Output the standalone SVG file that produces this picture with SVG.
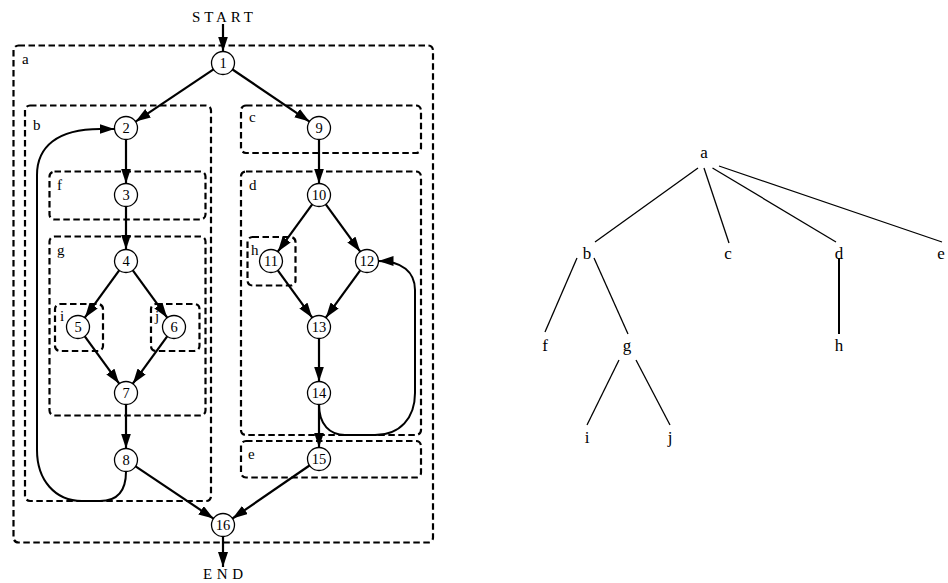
<svg xmlns="http://www.w3.org/2000/svg" width="948" height="583" viewBox="0 0 948 583">
<defs>
<marker id="arr" markerUnits="userSpaceOnUse" markerWidth="16" markerHeight="11" refX="15" refY="5" orient="auto">
<path d="M0,0 L15,5 L0,10 Z" fill="#000"/>
</marker>
<style>
.box{fill:none;stroke:#000;stroke-width:2.2;stroke-dasharray:6.5 3.5}
.lbl{font-family:"Liberation Serif","DejaVu Serif",serif;font-size:15px;fill:#000}
.edge{fill:none;stroke:#000;stroke-width:2.2;marker-end:url(#arr)}
.loop{fill:none;stroke:#000;stroke-width:2;marker-end:url(#arr)}
.node circle{fill:#fff;stroke:#000;stroke-width:1.3}
.node text{font-family:"Liberation Serif","DejaVu Serif",serif;font-size:14.5px;text-anchor:middle;fill:#000}
.term{font-family:"Liberation Serif","DejaVu Serif",serif;font-size:15px;fill:#000}
.tl{font-family:"Liberation Serif","DejaVu Serif",serif;font-size:17px;text-anchor:middle;fill:#000}
.tedge{stroke:#000;stroke-width:1.3;fill:none}
</style>
</defs>
<rect width="948" height="583" fill="#fff"/>

<g id="clusters">
<g id="cluster-a"><rect class="box" x="13.5" y="45.5" width="419.5" height="497" rx="5"/><text class="lbl" x="22" y="64">a</text></g>
<g id="cluster-b"><rect class="box" x="25" y="105.5" width="186" height="395.5" rx="5"/><text class="lbl" x="33" y="130">b</text></g>
<g id="cluster-c"><rect class="box" x="241" y="105.5" width="180" height="47.5" rx="5"/><text class="lbl" x="249" y="122">c</text></g>
<g id="cluster-d"><rect class="box" x="241" y="171.5" width="180" height="263.5" rx="5"/><text class="lbl" x="249" y="190">d</text></g>
<g id="cluster-e"><rect class="box" x="241" y="441" width="180" height="36.5" rx="5"/><text class="lbl" x="248" y="459">e</text></g>
<g id="cluster-f"><rect class="box" x="49.5" y="171.5" width="156" height="48" rx="5"/><text class="lbl" x="57" y="190">f</text></g>
<g id="cluster-g"><rect class="box" x="49.5" y="236.5" width="156" height="179" rx="5"/><text class="lbl" x="57" y="255">g</text></g>
<g id="cluster-h"><rect class="box" x="247.5" y="237" width="48" height="48.5" rx="5"/><text class="lbl" x="251" y="255">h</text></g>
<g id="cluster-i"><rect class="box" x="55" y="304" width="48" height="47" rx="5"/><text class="lbl" x="60" y="321">i</text></g>
<g id="cluster-j"><rect class="box" x="151" y="304" width="48.5" height="47" rx="5"/><text class="lbl" x="155" y="321">j</text></g>
</g>

<g id="connectors">
<line class="edge" x1="223" y1="24" x2="223" y2="51.5"/>
<line class="edge" x1="213.5" y1="69.4" x2="135.6" y2="121.6"/>
<line class="edge" x1="232.5" y1="69.5" x2="309.5" y2="121.6"/>
<line class="edge" x1="126" y1="139.5" x2="126" y2="183.5"/>
<line class="edge" x1="126" y1="206.5" x2="126" y2="249.5"/>
<line class="edge" x1="119.2" y1="270.3" x2="84.8" y2="317.7"/>
<line class="edge" x1="132.8" y1="270.3" x2="167.2" y2="317.7"/>
<line class="edge" x1="84.8" y1="336.3" x2="119.2" y2="383.7"/>
<line class="edge" x1="167.2" y1="336.3" x2="132.8" y2="383.7"/>
<line class="edge" x1="126" y1="404.5" x2="126" y2="448.5"/>
<line class="edge" x1="135.6" y1="466.4" x2="213.5" y2="518.6"/>
<line class="edge" x1="319" y1="139.5" x2="319" y2="183.5"/>
<line class="edge" x1="312.2" y1="204.3" x2="277.8" y2="251.7"/>
<line class="edge" x1="325.8" y1="204.3" x2="360.2" y2="251.7"/>
<line class="edge" x1="277.8" y1="270.3" x2="312.2" y2="317.7"/>
<line class="edge" x1="360.2" y1="270.3" x2="325.8" y2="317.7"/>
<line class="edge" x1="319" y1="338.5" x2="319" y2="381.5"/>
<line class="edge" x1="319" y1="404.5" x2="319" y2="447.5"/>
<line class="edge" x1="309.5" y1="465.5" x2="232.5" y2="518.5"/>
<line class="edge" x1="223" y1="536.5" x2="223" y2="567"/>
<path class="loop" d="M126,471.5 C126,490 118,501 100,501 L82,501 C55,501 37,480 37,450 L37,175 C37,147 57,129 100,129 L114.5,129"/>
<path class="loop" d="M319,404.5 C319,425 330,435 345,435 L375,435 C400,435 415,418 415,393 L415,290 C415,272 402,261 378.5,261"/>
</g>

<g id="nodes">
<g id="n1" class="node"><circle cx="223" cy="63" r="11.5"/><text x="223" y="68">1</text></g>
<g id="n2" class="node"><circle cx="126" cy="128" r="11.5"/><text x="126" y="133">2</text></g>
<g id="n3" class="node"><circle cx="126" cy="195" r="11.5"/><text x="126" y="200">3</text></g>
<g id="n4" class="node"><circle cx="126" cy="261" r="11.5"/><text x="126" y="266">4</text></g>
<g id="n5" class="node"><circle cx="78" cy="327" r="11.5"/><text x="78" y="332">5</text></g>
<g id="n6" class="node"><circle cx="174" cy="327" r="11.5"/><text x="174" y="332">6</text></g>
<g id="n7" class="node"><circle cx="126" cy="393" r="11.5"/><text x="126" y="398">7</text></g>
<g id="n8" class="node"><circle cx="126" cy="460" r="11.5"/><text x="126" y="465">8</text></g>
<g id="n9" class="node"><circle cx="319" cy="128" r="11.5"/><text x="319" y="133">9</text></g>
<g id="n10" class="node"><circle cx="319" cy="195" r="11.5"/><text x="319" y="200">10</text></g>
<g id="n11" class="node"><circle cx="271" cy="261" r="11.5"/><text x="271" y="266">11</text></g>
<g id="n12" class="node"><circle cx="367" cy="261" r="11.5"/><text x="367" y="266">12</text></g>
<g id="n13" class="node"><circle cx="319" cy="327" r="11.5"/><text x="319" y="332">13</text></g>
<g id="n14" class="node"><circle cx="319" cy="393" r="11.5"/><text x="319" y="398">14</text></g>
<g id="n15" class="node"><circle cx="319" cy="459" r="11.5"/><text x="319" y="464">15</text></g>
<g id="n16" class="node"><circle cx="223" cy="525" r="11.5"/><text x="223" y="530">16</text></g>
<g id="start"><text class="term" x="192" y="21.5" textLength="61" lengthAdjust="spacing">START</text></g>
<g id="end"><text class="term" x="203" y="578.5" textLength="40" lengthAdjust="spacing">END</text></g>
</g>

<g id="tree-connectors">
<line class="tedge" x1="698" y1="168" x2="595" y2="242"/>
<line class="tedge" x1="704" y1="168" x2="729" y2="243"/>
<line class="tedge" x1="712.5" y1="168" x2="836" y2="242"/>
<line class="tedge" x1="719" y1="166" x2="942" y2="242"/>
<line class="tedge" x1="839" y1="258" x2="839" y2="334" style="stroke-width:2"/>
<line class="tedge" x1="577" y1="258" x2="545" y2="332"/>
<line class="tedge" x1="594" y1="258" x2="628" y2="334"/>
<line class="tedge" x1="619" y1="360" x2="587" y2="425"/>
<line class="tedge" x1="636" y1="360" x2="670" y2="425"/>
</g>
<g id="tree-nodes">
<g id="t-a"><text class="tl" x="704" y="158">a</text></g>
<g id="t-b"><text class="tl" x="587" y="259">b</text></g>
<g id="t-c"><text class="tl" x="728" y="259">c</text></g>
<g id="t-d"><text class="tl" x="839" y="259">d</text></g>
<g id="t-e"><text class="tl" x="941" y="259">e</text></g>
<g id="t-f"><text class="tl" x="545" y="351">f</text></g>
<g id="t-g"><text class="tl" x="627" y="351">g</text></g>
<g id="t-h"><text class="tl" x="839" y="351">h</text></g>
<g id="t-i"><text class="tl" x="587" y="443">i</text></g>
<g id="t-j"><text class="tl" x="670" y="443">j</text></g>
</g>
</svg>
